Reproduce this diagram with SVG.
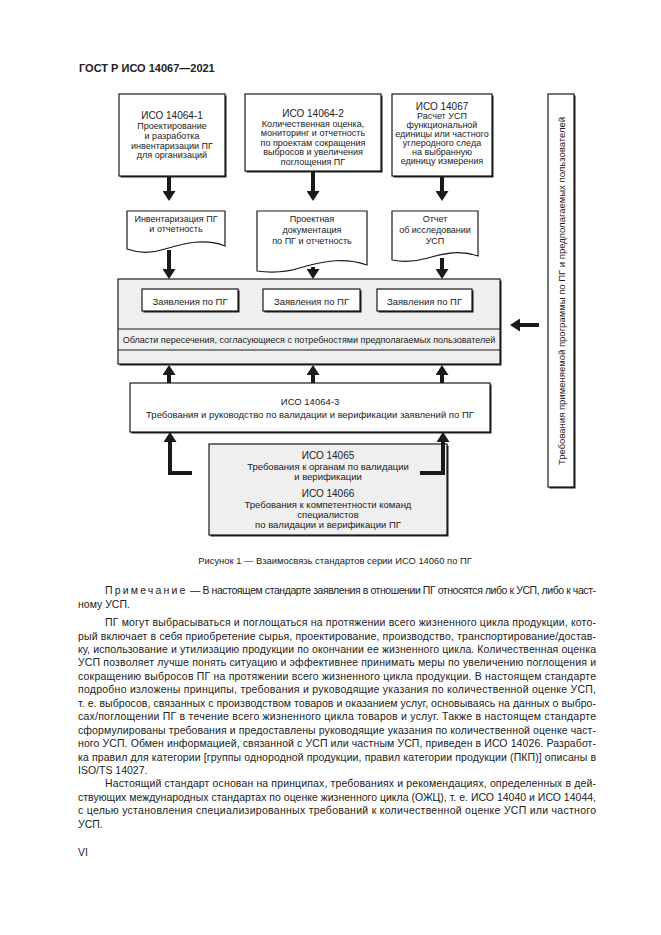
<svg xmlns="http://www.w3.org/2000/svg" width="661" height="935" viewBox="0 0 661 935">
<style>
.bx{fill:#fff;stroke:#1a1a1a;stroke-width:1.2}
.gr{fill:#efefef;stroke:#1a1a1a;stroke-width:1.2}
.sh{fill:#1a1a1a}
text{font-family:"Liberation Sans",Arial,sans-serif;fill:#222}
.c{text-anchor:middle}
.s9{font-size:9px}
.s95{font-size:9.5px}
.s10{font-size:10px}
.bt{font-size:10.5px}
.ar{fill:none;stroke:#1a1a1a;stroke-width:4}
</style>
<defs>
<marker id="ah" markerUnits="userSpaceOnUse" markerWidth="10" markerHeight="13" refX="5" refY="6.5" orient="auto">
<path d="M0,0 L10,6.5 L0,13 Z" fill="#1a1a1a"/>
</marker>
</defs>
<rect width="661" height="935" fill="#fff"/>
<text x="79" y="72" style="font-size:11px;font-weight:bold">ГОСТ Р ИСО 14067—2021</text>

<g id="iso14064-1">
<rect class="sh" x="120.5" y="95.5" width="106" height="82"/>
<rect class="bx" x="119" y="94" width="106" height="82"/>
<text class="c s10" x="172" y="118.5">ИСО 14064-1</text>
<text class="c s9" x="172" y="128.5">Проектирование</text>
<text class="c s9" x="172" y="138.5">и разработка</text>
<text class="c s9" x="172" y="148.5">инвентаризации ПГ</text>
<text class="c s9" x="172" y="158">для организаций</text>
</g>
<g id="iso14064-2">
<rect class="sh" x="246.5" y="95.5" width="136" height="77"/>
<rect class="bx" x="245" y="94" width="136" height="77"/>
<text class="c s10" x="313" y="116.5">ИСО 14064-2</text>
<text class="c s9" x="313" y="126.5">Количественная оценка,</text>
<text class="c s9" x="313" y="136">мониторинг и отчетность</text>
<text class="c s9" x="313" y="145.5">по проектам сокращения</text>
<text class="c s9" x="313" y="155">выбросов и увеличения</text>
<text class="c s9" x="313" y="164.5">поглощения ПГ</text>
</g>
<g id="iso14067">
<rect class="sh" x="393.5" y="95.5" width="100" height="82"/>
<rect class="bx" x="392" y="94" width="100" height="82"/>
<text class="c s10" x="442" y="109.5">ИСО 14067</text>
<text class="c s9" x="442" y="118.5">Расчет УСП</text>
<text class="c s9" x="442" y="127.5">функциональной</text>
<text class="c s9" x="442" y="136.5">единицы или частного</text>
<text class="c s9" x="442" y="146">углеродного следа</text>
<text class="c s9" x="442" y="155">на выбранную</text>
<text class="c s9" x="442" y="164">единицу измерения</text>
</g>

<g id="doc1">
<path class="bx" d="M127,211 H225 V246 C205,238 185,243 165,249 C150,254 138,253 127,249 Z"/>
<text class="c s9" x="176" y="221.5">Инвентаризация ПГ</text>
<text class="c s9" x="176" y="231.5">и отчетность</text>
</g>
<g id="doc2">
<path class="bx" d="M257,211 H367 V265 C345,257 325,261 303,267 C285,273 270,273 257,271 Z"/>
<text class="c s9" x="312" y="221.5">Проектная</text>
<text class="c s9" x="312" y="232.5">документация</text>
<text class="c s9" x="312" y="243.5">по ПГ и отчетность</text>
</g>
<g id="doc3">
<path class="bx" d="M392,211 H478 V256 C460,250 445,253 428,258 C414,262 402,262 392,260 Z"/>
<text class="c s9" x="435" y="221.5">Отчет</text>
<text class="c s9" x="435" y="232.5">об исследовании</text>
<text class="c s9" x="435" y="243.5">УСП</text>
</g>

<g id="claims">
<rect class="sh" x="119.5" y="280.5" width="382" height="85"/>
<rect class="gr" x="118" y="279" width="382" height="85"/>
<line x1="118" y1="329" x2="500" y2="329" stroke="#1a1a1a" stroke-width="1.2"/>
<line x1="118" y1="350" x2="500" y2="350" stroke="#1a1a1a" stroke-width="1.2"/>
<rect class="sh" x="143.5" y="290.5" width="96" height="22"/>
<rect class="bx" x="142" y="289" width="96" height="22"/>
<text class="c s95" x="190" y="305">Заявления по ПГ</text>
<rect class="sh" x="264.5" y="290.5" width="97" height="22"/>
<rect class="bx" x="263" y="289" width="97" height="22"/>
<text class="c s95" x="311.5" y="305">Заявления по ПГ</text>
<rect class="sh" x="378.5" y="290.5" width="95" height="22"/>
<rect class="bx" x="377" y="289" width="95" height="22"/>
<text class="c s95" x="424.5" y="305">Заявления по ПГ</text>
<text class="c s9" x="309" y="343">Области пересечения, согласующиеся с потребностями предполагаемых пользователей</text>
</g>

<g id="iso14064-3">
<rect class="sh" x="131.5" y="384.5" width="360" height="49"/>
<rect class="bx" x="130" y="383" width="360" height="49"/>
<text class="c s95" x="310" y="405">ИСО 14064-3</text>
<text class="c s95" x="310" y="418">Требования и руководство по валидации и верификации заявлений по ПГ</text>
</g>

<g id="iso14065-14066">
<rect class="sh" x="210.5" y="445.5" width="238" height="91"/>
<rect class="gr" x="209" y="444" width="238" height="91"/>
<text class="c s10" x="328" y="459">ИСО 14065</text>
<text class="c s95" x="328" y="470">Требования к органам по валидации</text>
<text class="c s95" x="328" y="480">и верификации</text>
<text class="c s10" x="328" y="497">ИСО 14066</text>
<text class="c s95" x="328" y="507.5">Требования к компетентности команд</text>
<text class="c s95" x="328" y="517.5">специалистов</text>
<text class="c s95" x="328" y="527.5">по валидации и верификации ПГ</text>
</g>

<g id="program">
<rect class="sh" x="549.5" y="95.5" width="26" height="393"/>
<rect class="bx" x="548" y="94" width="26" height="393"/>
<text class="c s95" transform="translate(565,291) rotate(-90)" x="0" y="0">Требования применяемой программы по ПГ и предполагаемых пользователей</text>
</g>

<g id="connectors">
<path class="ar" marker-end="url(#ah)" d="M169,176 V196"/>
<path class="ar" marker-end="url(#ah)" d="M313,171 V196"/>
<path class="ar" marker-end="url(#ah)" d="M442,176 V196"/>
<path class="ar" marker-end="url(#ah)" d="M169,250 V274"/>
<path class="ar" marker-end="url(#ah)" d="M313,267 V274"/>
<path class="ar" marker-end="url(#ah)" d="M442,258 V274"/>
<path class="ar" marker-end="url(#ah)" d="M169,383 V370"/>
<path class="ar" marker-end="url(#ah)" d="M313,383 V370"/>
<path class="ar" marker-end="url(#ah)" d="M442,383 V370"/>
<path class="ar" marker-end="url(#ah)" d="M192,473 H170 V437"/>
<path class="ar" marker-end="url(#ah)" d="M420,473 H443 V437"/>
<path class="ar" marker-end="url(#ah)" d="M539,325 H515"/>
</g>

<text class="c" style="font-size:9.4px" x="335" y="564">Рисунок 1 — Взаимосвязь стандартов серии ИСО 14060 по ПГ</text>

<g id="body" class="bt">
<text class="bt" x="105" y="594" textLength="491" lengthAdjust="spacing"><tspan letter-spacing="2.6">Примечание</tspan> — В настоящем стандарте заявления в отношении ПГ относятся либо к УСП, либо к част-</text>
<text class="bt" x="78" y="607.5">ному УСП.</text>
<text class="bt" x="105" y="626" textLength="491" lengthAdjust="spacing">ПГ могут выбрасываться и поглощаться на протяжении всего жизненного цикла продукции, кото-</text>
<text class="bt" x="78" y="639.5" textLength="518" lengthAdjust="spacing">рый включает в себя приобретение сырья, проектирование, производство, транспортирование/достав-</text>
<text class="bt" x="78" y="653" textLength="518" lengthAdjust="spacing">ку, использование и утилизацию продукции по окончании ее жизненного цикла. Количественная оценка</text>
<text class="bt" x="78" y="666.4" textLength="518" lengthAdjust="spacing">УСП позволяет лучше понять ситуацию и эффективнее принимать меры по увеличению поглощения и</text>
<text class="bt" x="78" y="679.8" textLength="518" lengthAdjust="spacing">сокращению выбросов ПГ на протяжении всего жизненного цикла продукции. В настоящем стандарте</text>
<text class="bt" x="78" y="693.3" textLength="518" lengthAdjust="spacing">подробно изложены принципы, требования и руководящие указания по количественной оценке УСП,</text>
<text class="bt" x="78" y="706.7" textLength="518" lengthAdjust="spacing">т. е. выбросов, связанных с производством товаров и оказанием услуг, основываясь на данных о выбро-</text>
<text class="bt" x="78" y="720.2" textLength="518" lengthAdjust="spacing">сах/поглощении ПГ в течение всего жизненного цикла товаров и услуг. Также в настоящем стандарте</text>
<text class="bt" x="78" y="733.6" textLength="518" lengthAdjust="spacing">сформулированы требования и предоставлены руководящие указания по количественной оценке част-</text>
<text class="bt" x="78" y="747" textLength="518" lengthAdjust="spacing">ного УСП. Обмен информацией, связанной с УСП или частным УСП, приведен в ИСО 14026. Разработ-</text>
<text class="bt" x="78" y="760.5" textLength="518" lengthAdjust="spacing">ка правил для категории [группы однородной продукции, правил категории продукции (ПКП)] описаны в</text>
<text class="bt" x="78" y="774">ISO/TS 14027.</text>
<text class="bt" x="105" y="787.4" textLength="491" lengthAdjust="spacing">Настоящий стандарт основан на принципах, требованиях и рекомендациях, определенных в дей-</text>
<text class="bt" x="78" y="800.8" textLength="518" lengthAdjust="spacing">ствующих международных стандартах по оценке жизненного цикла (ОЖЦ), т. е. ИСО 14040 и ИСО 14044,</text>
<text class="bt" x="78" y="814.3" textLength="518" lengthAdjust="spacing">с целью установления специализированных требований к количественной оценке УСП или частного</text>
<text class="bt" x="78" y="827.7">УСП.</text>
<text class="bt" x="78" y="856">VI</text>
</g>
</svg>
